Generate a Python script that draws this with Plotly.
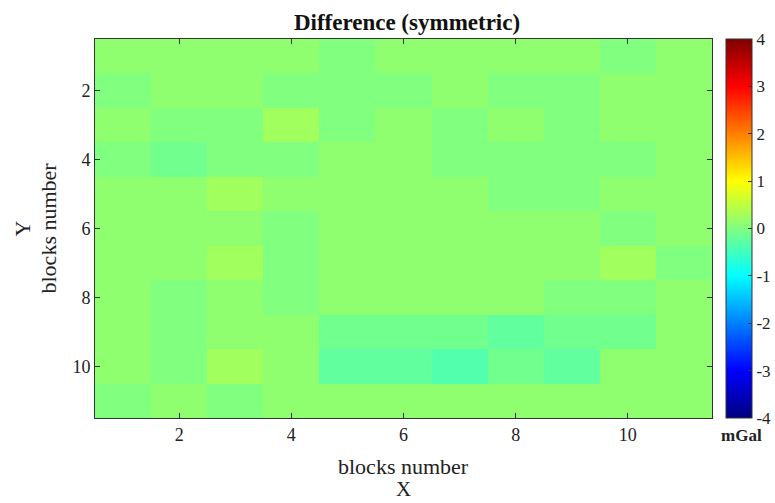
import plotly.graph_objects as go

x_blocks = list(range(1, 12))
y_blocks = list(range(1, 12))

# Difference values (mGal), rows = Y 1..11 (top to bottom), cols = X 1..11
row1 = [0.12, 0.12, 0.12, 0.12, 0.01, 0.12, 0.12, 0.12, 0.12, 0.01, 0.12]
row2 = [0.01, 0.12, 0.12, 0.01, 0.01, 0.01, 0.12, 0.01, 0.01, 0.12, 0.12]
row3 = [0.12, 0.01, 0.01, 0.26, 0.01, 0.12, 0.01, 0.12, 0.01, 0.12, 0.12]
row4 = [0.01, -0.11, 0.01, 0.01, 0.12, 0.12, 0.01, 0.01, 0.01, 0.01, 0.12]
row5 = [0.12, 0.12, 0.26, 0.12, 0.12, 0.12, 0.12, 0.01, 0.01, 0.12, 0.12]
row6 = [0.12, 0.12, 0.12, 0.01, 0.12, 0.12, 0.12, 0.12, 0.12, 0.01, 0.12]
row7 = [0.12, 0.12, 0.26, 0.01, 0.12, 0.12, 0.12, 0.12, 0.12, 0.26, 0.01]
row8 = [0.12, 0.01, 0.12, 0.01, 0.12, 0.12, 0.12, 0.12, 0.01, 0.01, 0.12]
row9 = [0.12, 0.01, 0.12, 0.12, -0.11, -0.11, -0.11, -0.24, -0.11, -0.11, 0.12]
row10 = [0.12, 0.01, 0.26, 0.12, -0.24, -0.24, -0.36, -0.11, -0.24, 0.12, 0.12]
row11 = [0.01, 0.12, 0.01, 0.12, 0.12, 0.12, 0.12, 0.12, 0.12, 0.12, 0.12]
z_values = [row1, row2, row3, row4, row5, row6, row7, row8, row9, row10, row11]

x_ticks = [2, 4, 6, 8, 10]
y_ticks = [2, 4, 6, 8, 10]
cbar_ticks = [-4, -3, -2, -1, 0, 1, 2, 3, 4]
cbar_labels = ["-4", "-3", "-2", "-1", "0", "1", "2", "3", "4"]

matlab_jet = [
    [0.0, "rgb(0,0,128)"],
    [0.125, "rgb(0,0,255)"],
    [0.375, "rgb(0,255,255)"],
    [0.625, "rgb(255,255,0)"],
    [0.875, "rgb(255,0,0)"],
    [1.0, "rgb(128,0,0)"],
]

FONT = "Liberation Serif"
W, H = 775, 503
L, R, T, B = 95, 63, 39, 85
PW, PH = W - L - R, H - T - B


def px_x(px):
    return (px - L) / PW


def px_y(py):
    return (H - B - py) / PH


fig = go.Figure(
    go.Heatmap(
        z=z_values, x=x_blocks, y=y_blocks,
        zmin=-4, zmax=4, colorscale=matlab_jet,
        colorbar=dict(
            x=px_x(726), xanchor="left", xpad=0, ypad=0,
            y=0.5, yanchor="middle", len=1.0, lenmode="fraction",
            thickness=26, thicknessmode="pixels",
            outlinewidth=1, outlinecolor="#333",
            tickvals=cbar_ticks, ticktext=cbar_labels,
            ticks="inside", ticklen=4, tickcolor="#333",
            tickfont=dict(family=FONT, size=17, color="#222"),
        ),
    )
)

fig.update_layout(
    width=W, height=H,
    margin=dict(l=L, r=R, t=T, b=B, autoexpand=False),
    paper_bgcolor="white", plot_bgcolor="white",
    font=dict(family=FONT, color="#222"),
    title=dict(text="<b>Difference (symmetric)</b>", x=px_x(407), xref="paper",
               xanchor="center", yref="container", y=1 - 22 / H, yanchor="middle",
               font=dict(family=FONT, size=23, color="#111")),
    xaxis=dict(range=[0.5, 11.5], tickvals=x_ticks, ticks="inside", ticklen=5,
               tickcolor="#333", showline=True, linecolor="#333", linewidth=1,
               mirror="ticks", showgrid=False, zeroline=False,
               tickfont=dict(family=FONT, size=18, color="#222")),
    yaxis=dict(range=[11.5, 0.5], tickvals=y_ticks, ticks="inside", ticklen=5,
               tickcolor="#333", showline=True, linecolor="#333", linewidth=1,
               mirror="ticks", showgrid=False, zeroline=False,
               tickfont=dict(family=FONT, size=18, color="#222")),
    annotations=[
        dict(text="blocks number", xref="paper", yref="paper", x=0.5, y=px_y(466),
             xanchor="center", yanchor="middle", showarrow=False,
             font=dict(family=FONT, size=22, color="#222")),
        dict(text="X", xref="paper", yref="paper", x=0.5, y=px_y(489),
             xanchor="center", yanchor="middle", showarrow=False,
             font=dict(family=FONT, size=21, color="#222")),
        dict(text="blocks number", xref="paper", yref="paper", x=px_x(48), y=0.5,
             xanchor="center", yanchor="middle", showarrow=False, textangle=-90,
             font=dict(family=FONT, size=22, color="#222")),
        dict(text="Y", xref="paper", yref="paper", x=px_x(22), y=0.5,
             xanchor="center", yanchor="middle", showarrow=False, textangle=-90,
             font=dict(family=FONT, size=22, color="#222")),
        dict(text="<b>mGal</b>", xref="paper", yref="paper", x=px_x(741), y=px_y(435),
             xanchor="center", yanchor="middle", showarrow=False,
             font=dict(family=FONT, size=17, color="#222")),
    ],
)

fig.write_html("out.html")
